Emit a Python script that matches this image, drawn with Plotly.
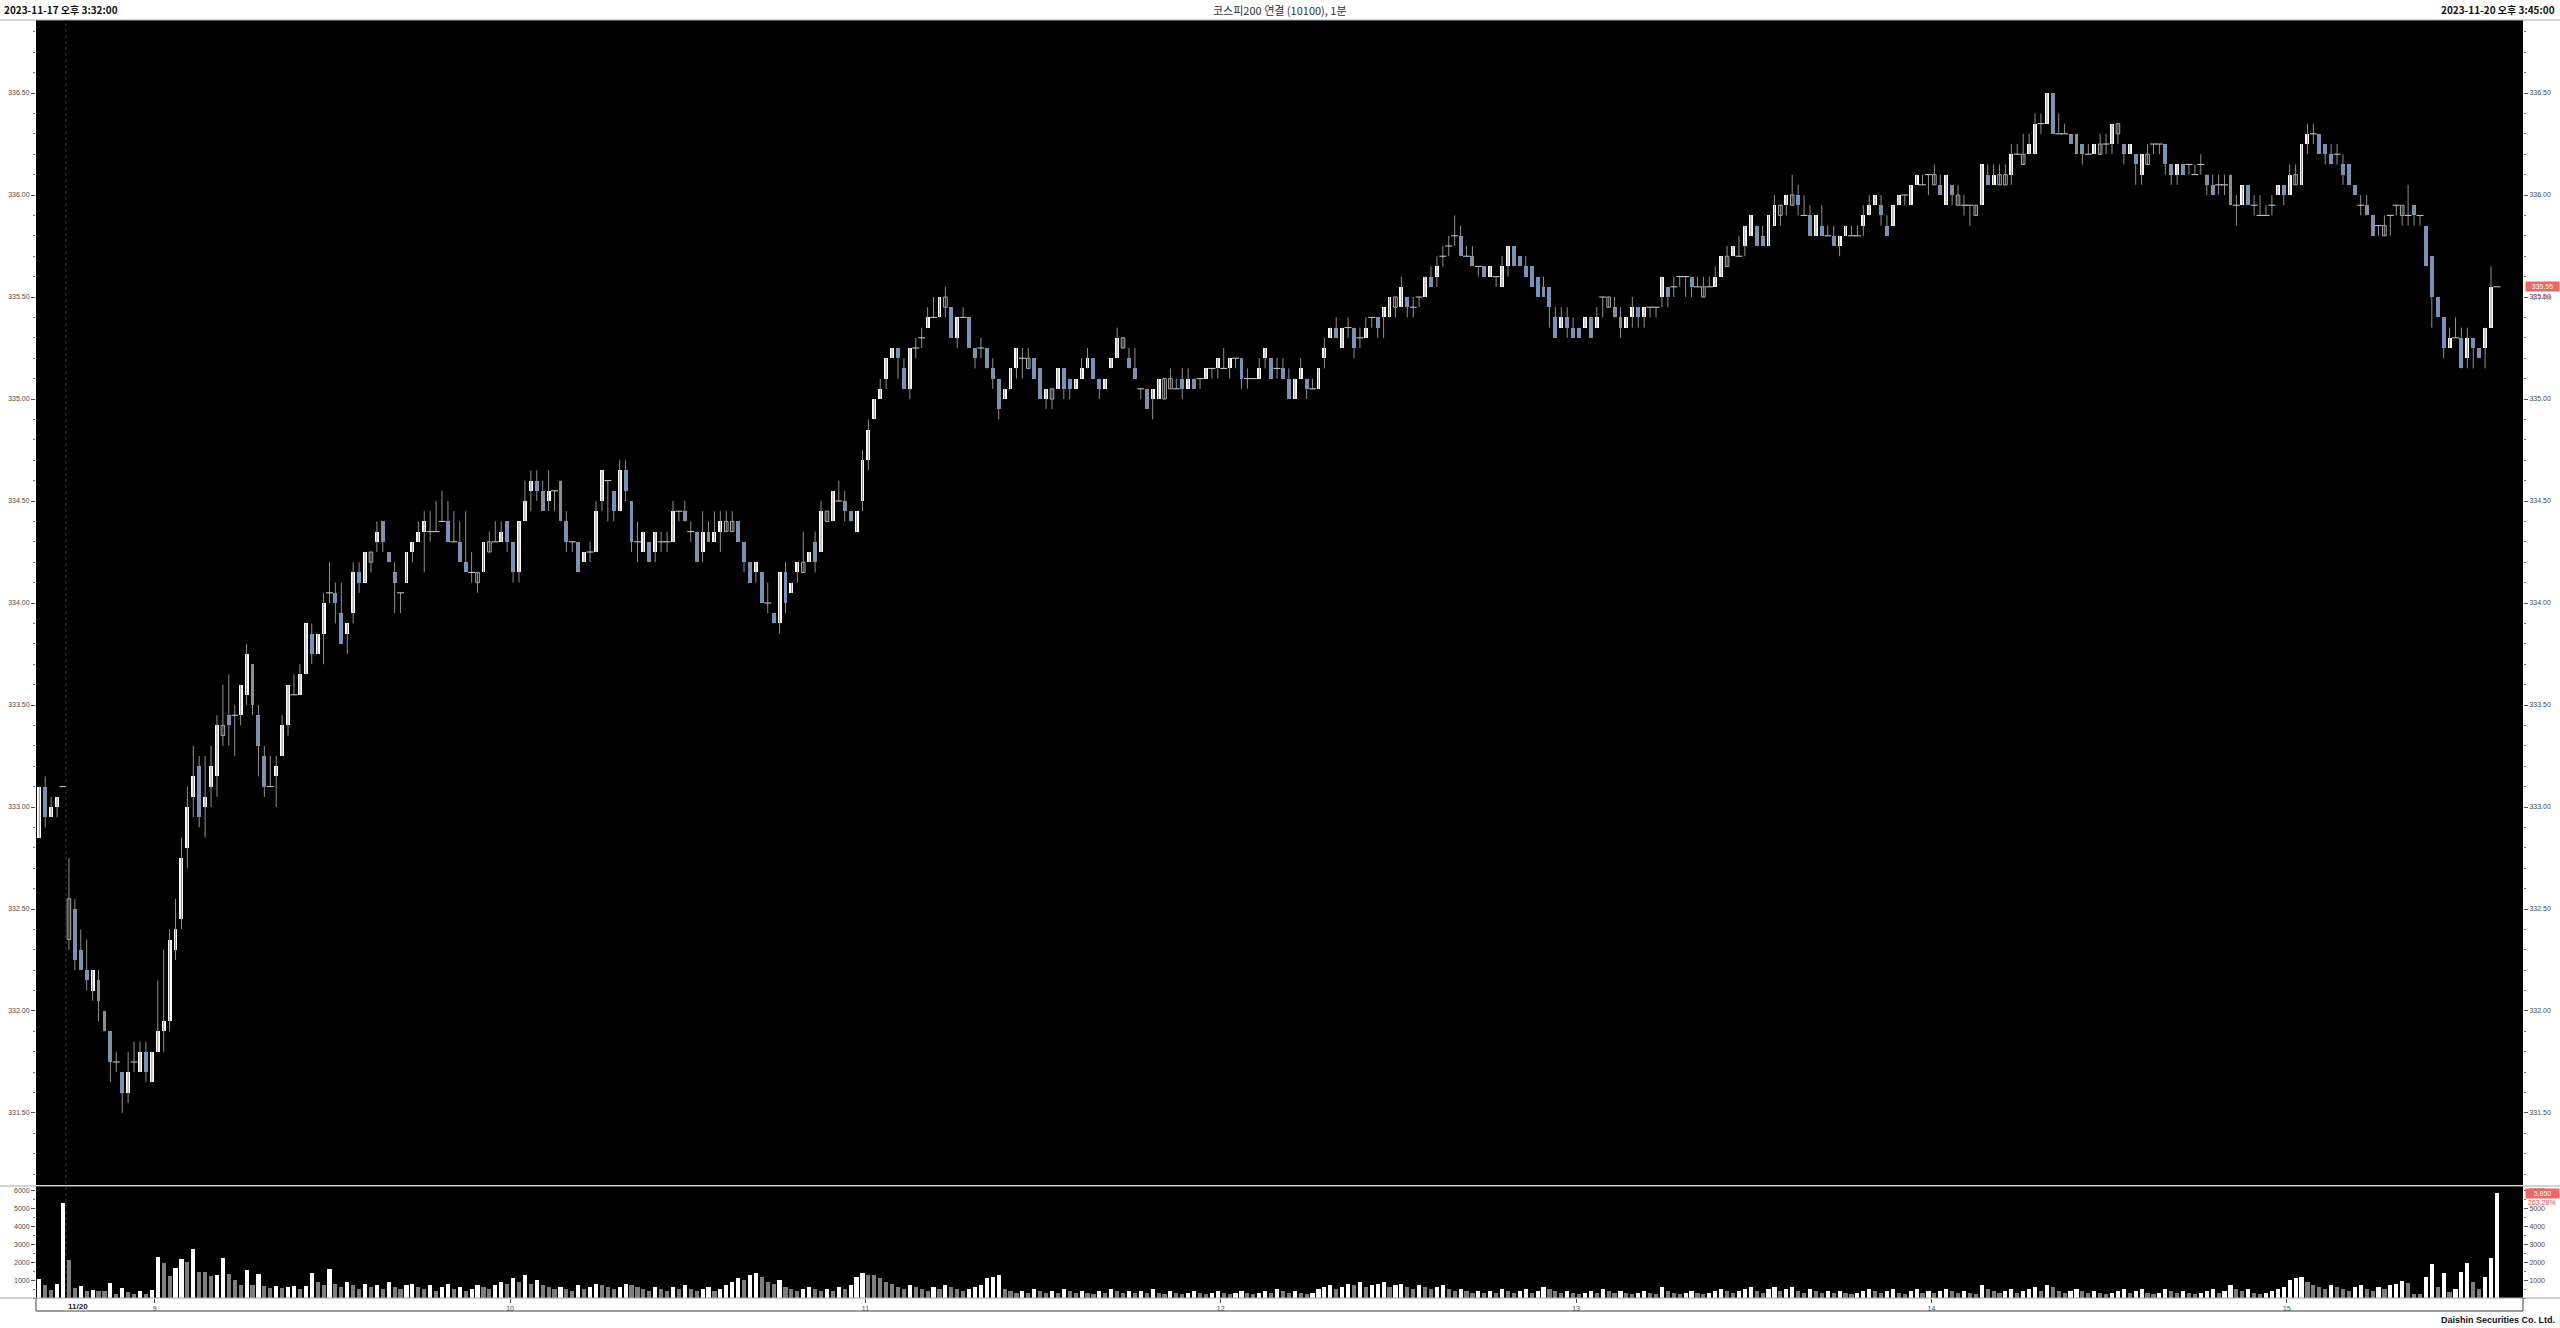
import plotly.graph_objects as go

W, H = 2560, 1328

# ---------------- data ----------------
open_ = [
332.85,333.10,332.95,333.00,333.10,332.35,332.50,332.30,332.20,332.10,
332.15,332.00,331.90,331.75,331.70,331.60,331.75,331.70,331.80,331.65,
331.80,331.90,331.95,332.30,332.45,332.80,333.05,333.20,333.00,333.10,
333.15,333.35,333.45,333.45,333.45,333.55,333.70,333.45,333.25,333.10,
333.15,333.25,333.40,333.55,333.55,333.65,333.85,333.75,333.85,334.05,
334.05,333.95,333.85,333.95,334.15,334.10,334.20,334.30,334.40,334.25,
334.15,334.05,334.10,334.25,334.30,334.35,334.35,334.35,334.40,334.40,
334.30,334.30,334.20,334.15,334.10,334.15,334.25,334.30,334.30,334.40,
334.30,334.15,334.40,334.55,334.60,334.55,334.50,334.55,334.60,334.40,
334.30,334.30,334.20,334.25,334.25,334.50,334.60,334.55,334.45,334.65,
334.50,334.30,334.25,334.30,334.25,334.30,334.30,334.30,334.45,334.45,
334.35,334.35,334.25,334.35,334.30,334.35,334.35,334.35,334.40,334.30,
334.20,334.15,334.15,334.00,333.95,333.90,334.15,334.05,334.15,334.15,
334.20,334.30,334.25,334.40,334.40,334.50,334.50,334.45,334.35,334.50,
334.70,334.90,335.00,335.10,335.20,335.25,335.15,335.05,335.25,335.30,
335.35,335.40,335.40,335.45,335.45,335.30,335.40,335.40,335.25,335.25,
335.25,335.15,335.10,335.00,335.05,335.15,335.20,335.15,335.20,335.15,
335.00,335.00,335.05,335.15,335.10,335.05,335.10,335.15,335.20,335.10,
335.05,335.15,335.20,335.25,335.20,335.15,335.05,335.05,335.00,335.00,
335.00,335.05,335.05,335.10,335.05,335.10,335.10,335.10,335.15,335.15,
335.15,335.15,335.20,335.20,335.10,335.10,335.10,335.20,335.20,335.15,
335.15,335.10,335.00,335.10,335.10,335.05,335.05,335.20,335.30,335.35,
335.25,335.35,335.35,335.30,335.30,335.40,335.40,335.40,335.40,335.45,
335.45,335.50,335.45,335.50,335.50,335.60,335.60,335.70,335.75,335.80,
335.80,335.70,335.70,335.65,335.65,335.60,335.60,335.55,335.65,335.75,
335.70,335.65,335.65,335.60,335.55,335.55,335.40,335.35,335.40,335.35,
335.35,335.35,335.40,335.35,335.50,335.45,335.45,335.40,335.35,335.40,
335.45,335.40,335.45,335.45,335.50,335.55,335.55,335.60,335.60,335.60,
335.55,335.50,335.55,335.55,335.60,335.65,335.70,335.70,335.75,335.80,
335.85,335.80,335.75,335.85,335.90,335.95,335.95,336.00,335.90,335.90,
335.80,335.85,335.80,335.80,335.75,335.80,335.80,335.80,335.85,335.90,
335.95,335.95,335.85,335.85,335.95,336.00,335.95,336.05,336.05,336.10,
336.05,336.05,335.95,336.05,335.95,335.95,335.95,335.90,335.95,336.10,
336.05,336.05,336.05,336.10,336.20,336.15,336.20,336.20,336.35,336.35,
336.50,336.30,336.30,336.30,336.30,336.25,336.20,336.20,336.20,336.25,
336.25,336.30,336.25,336.20,336.20,336.10,336.15,336.25,336.25,336.25,
336.15,336.10,336.15,336.15,336.10,336.15,336.10,336.05,336.05,336.05,
336.10,335.95,335.95,336.05,335.95,335.90,335.90,335.95,336.00,336.05,
336.00,336.05,336.05,336.25,336.30,336.30,336.25,336.20,336.20,336.15,
336.15,336.05,335.95,335.95,335.90,335.85,335.80,335.90,335.95,335.90,
335.90,335.95,335.90,335.85,335.70,335.50,335.40,335.25,335.30,335.30,
335.20,335.30,335.25,335.25,335.35,335.55]

high_ = [
333.10,333.15,333.05,333.05,333.10,332.75,332.55,332.40,332.35,332.20,
332.20,332.00,331.90,331.80,331.70,331.80,331.85,331.85,331.85,331.80,
332.15,332.30,332.40,332.55,332.85,333.10,333.30,333.25,333.25,333.30,
333.45,333.60,333.65,333.50,333.60,333.80,333.70,333.50,333.30,333.25,
333.25,333.45,333.60,333.65,333.70,333.90,333.90,333.85,334.05,334.20,
334.10,334.10,333.90,334.20,334.20,334.25,334.25,334.40,334.40,334.25,
334.20,334.05,334.25,334.30,334.40,334.45,334.45,334.50,334.55,334.50,
334.45,334.40,334.45,334.25,334.15,334.30,334.35,334.40,334.40,334.40,
334.30,334.40,334.60,334.65,334.65,334.60,334.65,334.55,334.60,334.45,
334.30,334.30,334.25,334.30,334.50,334.65,334.60,334.55,334.70,334.70,
334.50,334.40,334.35,334.30,334.35,334.35,334.35,334.50,334.45,334.50,
334.40,334.35,334.45,334.40,334.45,334.45,334.45,334.45,334.40,334.30,
334.20,334.20,334.15,334.10,333.95,334.15,334.20,334.10,334.20,334.35,
334.25,334.35,334.50,334.45,334.55,334.60,334.55,334.45,334.45,334.75,
334.90,335.00,335.10,335.20,335.25,335.25,335.20,335.25,335.30,335.35,
335.45,335.50,335.50,335.55,335.45,335.40,335.45,335.40,335.25,335.30,
335.25,335.20,335.10,335.05,335.15,335.25,335.25,335.25,335.20,335.15,
335.05,335.05,335.15,335.15,335.10,335.10,335.20,335.25,335.20,335.10,
335.10,335.20,335.35,335.30,335.25,335.25,335.05,335.05,335.05,335.10,
335.10,335.15,335.10,335.15,335.15,335.10,335.10,335.15,335.15,335.20,
335.25,335.20,335.20,335.20,335.15,335.10,335.20,335.25,335.20,335.20,
335.20,335.15,335.10,335.20,335.10,335.10,335.15,335.30,335.35,335.40,
335.35,335.40,335.35,335.35,335.40,335.40,335.40,335.45,335.50,335.50,
335.60,335.50,335.50,335.50,335.60,335.65,335.70,335.75,335.80,335.90,
335.85,335.75,335.75,335.65,335.65,335.65,335.60,335.70,335.75,335.75,
335.70,335.70,335.65,335.60,335.60,335.55,335.45,335.45,335.45,335.40,
335.35,335.40,335.40,335.45,335.50,335.50,335.50,335.45,335.40,335.50,
335.45,335.45,335.45,335.45,335.60,335.55,335.60,335.60,335.60,335.60,
335.60,335.60,335.60,335.65,335.70,335.75,335.75,335.80,335.85,335.90,
335.85,335.85,335.90,336.00,335.95,336.00,336.10,336.05,336.00,335.95,
335.90,335.95,335.85,335.85,335.80,335.85,335.85,335.85,335.95,336.00,
336.00,336.00,335.90,335.95,336.00,336.00,336.05,336.10,336.10,336.10,
336.15,336.10,336.10,336.05,336.05,336.00,335.95,335.95,336.15,336.15,
336.15,336.15,336.15,336.25,336.25,336.30,336.30,336.40,336.40,336.50,
336.50,336.40,336.35,336.30,336.30,336.25,336.25,336.25,336.30,336.30,
336.35,336.35,336.25,336.25,336.20,336.20,336.25,336.25,336.25,336.25,
336.15,336.15,336.15,336.15,336.15,336.20,336.10,336.10,336.10,336.10,
336.10,336.00,336.05,336.05,336.00,336.00,335.95,336.00,336.05,336.05,
336.15,336.15,336.25,336.35,336.35,336.30,336.25,336.25,336.25,336.20,
336.15,336.05,336.00,336.00,335.90,335.85,335.90,335.90,335.95,335.95,
336.05,335.95,335.90,335.85,335.70,335.50,335.40,335.35,335.40,335.35,
335.35,335.30,335.25,335.35,335.65,335.55]

low_ = [
332.85,332.90,332.95,332.95,333.10,332.30,332.20,332.20,332.10,332.05,
331.95,331.90,331.65,331.70,331.50,331.55,331.70,331.70,331.65,331.65,
331.80,331.80,331.90,332.25,332.40,332.70,332.95,332.90,332.85,333.00,
333.05,333.30,333.30,333.25,333.40,333.50,333.45,333.15,333.05,333.10,
333.00,333.25,333.35,333.55,333.55,333.65,333.70,333.75,333.70,334.00,
333.90,333.80,333.75,333.90,334.05,334.10,334.15,334.25,334.25,334.20,
333.95,333.95,334.10,334.20,334.30,334.15,334.30,334.35,334.40,334.30,
334.30,334.20,334.15,334.10,334.05,334.15,334.25,334.30,334.30,334.25,
334.10,334.10,334.40,334.45,334.50,334.45,334.45,334.45,334.40,334.25,
334.25,334.15,334.20,334.20,334.25,334.45,334.40,334.40,334.45,334.50,
334.25,334.20,334.25,334.20,334.20,334.25,334.25,334.30,334.40,334.40,
334.30,334.20,334.20,334.30,334.30,334.25,334.35,334.35,334.30,334.15,
334.10,334.10,334.00,333.95,333.90,333.85,333.95,334.05,334.10,334.15,
334.20,334.15,334.25,334.40,334.40,334.50,334.40,334.40,334.35,334.45,
334.65,334.90,335.00,335.05,335.20,335.10,335.05,335.00,335.20,335.25,
335.35,335.40,335.40,335.40,335.30,335.25,335.40,335.25,335.15,335.20,
335.15,335.05,334.90,335.00,335.05,335.10,335.10,335.15,335.10,335.00,
334.95,334.95,335.05,335.00,335.00,335.05,335.10,335.15,335.10,335.00,
335.05,335.15,335.20,335.25,335.15,335.10,335.00,334.95,334.90,335.00,
335.00,335.05,335.05,335.00,335.05,335.05,335.05,335.10,335.10,335.10,
335.15,335.10,335.15,335.05,335.05,335.10,335.10,335.15,335.10,335.10,
335.10,335.00,335.00,335.10,335.00,335.05,335.05,335.15,335.30,335.30,
335.25,335.30,335.20,335.25,335.30,335.35,335.30,335.30,335.40,335.40,
335.45,335.40,335.40,335.45,335.50,335.55,335.55,335.65,335.70,335.75,
335.70,335.70,335.65,335.60,335.60,335.60,335.55,335.55,335.60,335.65,
335.65,335.60,335.55,335.50,335.50,335.35,335.30,335.35,335.30,335.30,
335.30,335.35,335.30,335.35,335.40,335.45,335.40,335.30,335.35,335.35,
335.35,335.35,335.40,335.40,335.45,335.45,335.50,335.55,335.50,335.50,
335.55,335.50,335.55,335.55,335.60,335.65,335.70,335.70,335.70,335.80,
335.75,335.75,335.75,335.85,335.85,335.90,335.95,335.90,335.90,335.80,
335.80,335.80,335.80,335.75,335.70,335.80,335.80,335.80,335.80,335.90,
335.95,335.85,335.80,335.85,335.95,335.95,335.95,336.05,336.05,336.00,
336.05,336.00,335.95,335.95,335.95,335.90,335.85,335.90,335.95,336.05,
336.05,336.05,336.05,336.05,336.20,336.15,336.20,336.20,336.30,336.35,
336.30,336.30,336.30,336.25,336.20,336.15,336.20,336.20,336.20,336.20,
336.20,336.25,336.15,336.20,336.05,336.05,336.15,336.20,336.20,336.10,
336.05,336.05,336.10,336.10,336.10,336.10,336.00,336.00,336.00,336.00,
335.95,335.85,335.95,335.95,335.90,335.90,335.90,335.90,336.00,335.95,
336.00,336.05,336.05,336.20,336.25,336.20,336.15,336.15,336.15,336.05,
336.05,336.00,335.90,335.90,335.80,335.80,335.80,335.80,335.90,335.85,
335.85,335.85,335.85,335.65,335.35,335.40,335.20,335.25,335.30,335.15,
335.15,335.15,335.20,335.15,335.35,335.55]

close_ = [
333.10,332.95,333.00,333.05,333.10,332.55,332.25,332.20,332.15,332.20,
332.05,331.90,331.75,331.75,331.60,331.70,331.75,331.80,331.70,331.80,
331.90,331.95,332.35,332.40,332.75,333.00,333.15,332.95,333.05,333.20,
333.40,333.40,333.40,333.45,333.60,333.75,333.50,333.30,333.10,333.10,
333.20,333.40,333.60,333.55,333.65,333.90,333.75,333.85,334.00,334.05,
334.00,333.80,333.90,334.15,334.10,334.25,334.25,334.35,334.30,334.20,
334.10,334.05,334.25,334.30,334.35,334.40,334.35,334.35,334.40,334.30,
334.30,334.20,334.15,334.15,334.15,334.30,334.30,334.30,334.35,334.30,
334.15,334.40,334.50,334.60,334.55,334.45,334.55,334.55,334.40,334.30,
334.30,334.15,334.25,334.25,334.45,334.65,334.60,334.45,334.65,334.55,
334.30,334.30,334.35,334.20,334.35,334.30,334.30,334.45,334.45,334.40,
334.35,334.20,334.35,334.30,334.35,334.40,334.40,334.40,334.30,334.20,
334.10,334.20,334.00,334.00,333.90,334.15,334.00,334.10,334.20,334.20,
334.25,334.20,334.45,334.45,334.55,334.50,334.45,334.40,334.45,334.70,
334.85,335.00,335.05,335.20,335.25,335.20,335.05,335.25,335.25,335.30,
335.40,335.40,335.50,335.50,335.30,335.40,335.40,335.25,335.20,335.25,
335.15,335.10,334.95,335.05,335.15,335.25,335.20,335.20,335.10,335.00,
335.05,335.05,335.15,335.05,335.05,335.10,335.15,335.20,335.10,335.05,
335.10,335.20,335.30,335.30,335.15,335.10,335.05,334.95,335.05,335.10,
335.10,335.10,335.05,335.05,335.10,335.05,335.10,335.15,335.15,335.20,
335.15,335.20,335.20,335.10,335.10,335.10,335.15,335.25,335.10,335.15,
335.10,335.00,335.10,335.15,335.05,335.05,335.15,335.25,335.35,335.30,
335.35,335.35,335.25,335.30,335.35,335.40,335.35,335.45,335.50,335.50,
335.55,335.45,335.45,335.50,335.60,335.55,335.65,335.70,335.75,335.80,
335.70,335.70,335.65,335.65,335.60,335.65,335.60,335.65,335.75,335.65,
335.65,335.60,335.55,335.50,335.50,335.45,335.30,335.40,335.35,335.30,
335.30,335.40,335.30,335.40,335.50,335.50,335.40,335.35,335.40,335.45,
335.40,335.45,335.45,335.45,335.60,335.50,335.55,335.60,335.60,335.55,
335.55,335.55,335.55,335.60,335.70,335.70,335.75,335.70,335.85,335.90,
335.75,335.75,335.90,335.95,335.95,336.00,336.00,335.95,335.90,335.80,
335.90,335.80,335.80,335.75,335.80,335.85,335.80,335.80,335.90,335.95,
336.00,335.90,335.80,335.95,336.00,336.00,336.05,336.10,336.05,336.10,
336.10,336.00,336.10,336.00,336.00,335.95,335.95,335.95,336.15,336.05,
336.10,336.10,336.10,336.20,336.20,336.20,336.25,336.35,336.35,336.50,
336.30,336.30,336.30,336.25,336.20,336.20,336.20,336.25,336.25,336.25,
336.35,336.35,336.20,336.25,336.15,336.20,336.20,336.25,336.25,336.15,
336.10,336.15,336.10,336.15,336.10,336.15,336.05,336.00,336.05,336.05,
335.95,335.95,336.05,335.95,335.95,335.90,335.90,335.95,336.05,336.00,
336.10,336.10,336.25,336.30,336.30,336.20,336.20,336.15,336.20,336.10,
336.05,336.00,335.95,335.90,335.80,335.85,335.85,335.90,335.95,335.95,
335.90,335.90,335.90,335.65,335.50,335.40,335.25,335.30,335.30,335.15,
335.30,335.25,335.20,335.35,335.55,335.55]

volume = [
1050,720,450,800,5300,2150,560,650,380,430,
400,400,850,200,570,340,200,380,220,430,
2280,1950,1250,1650,2180,2020,2720,1450,1450,1240,
1300,2220,1350,1020,730,1550,700,1360,650,550,
680,580,610,680,520,650,1400,900,700,1600,
800,600,900,700,500,800,600,700,500,900,
600,500,700,800,600,500,700,400,600,800,
500,600,400,500,700,600,500,700,900,800,
1100,900,1300,800,1000,700,600,500,600,500,
400,700,500,600,800,700,600,500,600,800,
700,600,500,400,600,500,400,600,500,700,
500,400,500,600,400,500,700,900,1100,1000,
1300,1400,1200,900,800,1000,600,500,400,500,
600,500,400,500,400,600,500,700,1200,1400,
1300,1300,1100,900,800,600,500,700,600,500,
400,600,500,700,600,500,400,500,600,700,
1100,1200,1300,500,400,300,400,300,500,400,
300,400,300,500,400,300,400,300,200,400,
300,500,400,300,400,300,400,300,500,300,
200,400,300,200,300,400,300,200,300,400,
300,200,300,400,300,200,300,400,300,500,
400,300,400,300,200,300,500,600,700,500,
600,800,700,900,600,700,800,900,600,700,
800,600,500,700,600,500,600,700,500,400,
500,400,300,400,300,400,300,500,400,300,
400,500,300,400,600,500,400,300,400,300,
200,300,400,300,500,400,300,400,300,200,
300,400,300,200,600,400,300,200,300,400,
300,200,300,400,500,400,300,400,500,600,
400,300,500,600,400,500,600,400,300,500,
400,300,400,300,400,300,200,300,400,500,
400,300,400,500,300,200,400,500,300,400,
300,400,500,400,300,400,300,200,700,500,
400,300,400,500,300,400,500,600,400,700,
600,400,300,400,500,400,300,400,300,200,
300,400,500,300,400,500,300,200,300,500,
400,300,400,300,200,300,400,500,300,400,
700,500,400,500,300,200,300,400,500,600,
1000,1100,1200,900,700,600,500,700,600,500,
400,600,700,500,400,600,500,700,800,950,
850,250,200,1200,1900,600,1400,330,480,1450,
1950,900,480,1150,2250,5850]

hour_labels = ["9", "10", "11", "12", "13", "14", "15"]
price_ticks = [331.5, 332.0, 332.5, 333.0, 333.5, 334.0, 334.5, 335.0, 335.5, 336.0, 336.5]
volume_ticks = [1000, 2000, 3000, 4000, 5000, 6000]
prev_day_bars = 5              # bars of 2023-11-17 shown before the 11/20 session
session_start_min = 8 * 60 + 45
header_left = "2023-11-17 오후 3:32:00"
header_right = "2023-11-20 오후 3:45:00"
title_text = "코스피200 연결 (10100), 1분"
session_label = "11/20"
price_change = "0.74%"
volume_change = "263.28%"
footer = "Daishin Securities Co. Ltd."

n = len(close_)
assert len(open_) == n and len(high_) == n and len(low_) == n and len(volume) == n, (len(open_), len(high_), len(low_), n, len(volume))

# ---------------- derived ----------------
idx = list(range(n))
hour_pos = []
for i in range(prev_day_bars, n - 1):
    m = session_start_min + (i - prev_day_bars)
    if m % 60 == 0:
        hour_pos.append(i - 0.5)

up_x, up_b, up_h = [], [], []
dn_x, dn_b, dn_h = [], [], []
ho_x, ho_b, ho_h = [], [], []
dj_x, dj_y = [], []
for i in idx:
    o, c = open_[i], close_[i]
    if c == o:
        dj_x.append(i); dj_y.append(c)
    elif c > o:
        if i > 0 and c <= close_[i - 1]:
            ho_x.append(i); ho_b.append(o); ho_h.append(round(c - o, 4))
        else:
            up_x.append(i); up_b.append(o); up_h.append(round(c - o, 4))
    else:
        dn_x.append(i); dn_b.append(c); dn_h.append(round(o - c, 4))

wx, wy = [], []
for i in idx:
    wx += [i, i, None]
    wy += [low_[i], high_[i], None]

vu_x, vu_y, vd_x, vd_y = [], [], [], []
for i in idx:
    if i == 0 or volume[i] > volume[i - 1]:
        vu_x.append(i); vu_y.append(volume[i])
    else:
        vd_x.append(i); vd_y.append(volume[i])

# ---------------- geometry helpers ----------------
def px(x):
    return x / W

def py(y):
    return 1 - y / H

PL, PR = 36, 2523
P_TOP, P_BOT = 20, 1185
V_TOP, V_BOT = 1186, 1298
xr = [-0.56, 419.4]
yr = [331.147, 336.858]
vr = [0, 6257]

WHITE = "#ffffff"
BLUE = "#7393bd"
WICK = "#8f8f8f"
VGRAY = "#7f7f7f"

fig = go.Figure()
fig.add_trace(go.Scatter(x=wx, y=wy, mode="lines", line=dict(color=WICK, width=1),
                         xaxis="x", yaxis="y", hoverinfo="skip", showlegend=False))
fig.add_trace(go.Bar(x=up_x, y=up_h, base=up_b, width=0.66, marker=dict(color=WHITE, line=dict(width=0)),
                     xaxis="x", yaxis="y", showlegend=False))
fig.add_trace(go.Bar(x=dn_x, y=dn_h, base=dn_b, width=0.66, marker=dict(color=BLUE, line=dict(width=0)),
                     xaxis="x", yaxis="y", showlegend=False))
fig.add_trace(go.Bar(x=ho_x, y=ho_h, base=ho_b, width=0.6, marker=dict(color="#000000", line=dict(width=1, color="#b0b0b0")),
                     xaxis="x", yaxis="y", showlegend=False))
fig.add_trace(go.Scatter(x=dj_x, y=dj_y, mode="markers",
                         marker=dict(symbol="line-ew", size=5, line=dict(width=1, color="#cfcfcf")),
                         xaxis="x", yaxis="y3", hoverinfo="skip", showlegend=False))
fig.add_trace(go.Bar(x=vu_x, y=vu_y, width=0.7, marker=dict(color=WHITE, line=dict(width=0)),
                     xaxis="x2", yaxis="y2", showlegend=False))
fig.add_trace(go.Bar(x=vd_x, y=vd_y, width=0.7, marker=dict(color=VGRAY, line=dict(width=0)),
                     xaxis="x2", yaxis="y4", showlegend=False))

tick_font = dict(family="Liberation Sans, Arial, sans-serif", size=7, color="#4a4a4a")
price_axis = dict(range=yr, tickvals=price_ticks, tickformat=".2f", ticks="outside", ticklen=4,
                  tickwidth=1, tickcolor="#505050", tickfont=tick_font, showgrid=False, zeroline=False,
                  showline=False, minor=dict(dtick=0.1, tick0=331.5, ticks="outside", ticklen=2,
                                             tickcolor="#707070", showgrid=False))
vol_axis = dict(range=vr, tickvals=volume_ticks, tickformat="d", ticks="outside", ticklen=4,
                tickwidth=1, tickcolor="#505050", tickfont=tick_font, showgrid=False, zeroline=False,
                showline=False, minor=dict(dtick=500, ticks="outside", ticklen=2, tickcolor="#707070",
                                           showgrid=False))

fig.update_layout(
    width=W, height=H, margin=dict(l=0, r=0, t=0, b=0, pad=0),
    paper_bgcolor="white", plot_bgcolor="black",
    barmode="overlay", bargap=0, showlegend=False, hovermode=False,
    xaxis=dict(domain=[px(PL), px(PR)], range=xr, showticklabels=False, ticks="", showgrid=False,
               zeroline=False, showline=False, anchor="y"),
    yaxis=dict(domain=[py(P_BOT), py(P_TOP)], anchor="x", side="left", **price_axis),
    yaxis3=dict(overlaying="y", anchor="x", side="right", **price_axis),
    xaxis2=dict(domain=[px(PL), px(PR)], range=xr, anchor="y2", tickvals=hour_pos, ticktext=hour_labels,
                ticks="outside", ticklen=4, tickcolor="#505050", tickfont=tick_font, showgrid=False,
                zeroline=False, showline=False),
    yaxis2=dict(domain=[py(V_BOT), py(V_TOP)], anchor="x2", side="left", **vol_axis),
    yaxis4=dict(overlaying="y2", anchor="x2", side="right", **vol_axis),
)

shapes = []
for yy in (P_TOP, V_TOP, V_BOT):
    shapes.append(dict(type="line", xref="paper", yref="paper", x0=0, x1=1, y0=py(yy), y1=py(yy),
                       line=dict(color="#a8a8a8", width=1)))
shapes.append(dict(type="line", xref="paper", yref="paper", x0=px(PL), x1=px(PR), y0=py(1311), y1=py(1311),
                   line=dict(color="#404040", width=1)))
for xx in (PL, PR):
    shapes.append(dict(type="line", xref="paper", yref="paper", x0=px(xx), x1=px(xx), y0=py(V_BOT), y1=py(1311),
                       line=dict(color="#404040", width=1)))
shapes.append(dict(type="line", xref="x", yref="paper", x0=prev_day_bars - 0.5, x1=prev_day_bars - 0.5,
                   y0=py(V_BOT), y1=py(P_TOP), line=dict(color="#3c3c3c", width=1, dash="dot")))
fig.update_layout(shapes=shapes)

hdr_font = dict(family="Noto Sans CJK KR, sans-serif", size=10, color="#111111")
ann = [
    dict(text="<b>" + header_left + "</b>", xref="paper", yref="paper", x=px(2), y=py(10),
         xanchor="left", yanchor="middle", showarrow=False, font=hdr_font),
    dict(text="<b>" + header_right + "</b>", xref="paper", yref="paper", x=px(2557), y=py(10),
         xanchor="right", yanchor="middle", showarrow=False, font=hdr_font),
    dict(text=title_text, xref="paper", yref="paper", x=px(1280), y=py(10),
         xanchor="center", yanchor="middle", showarrow=False,
         font=dict(family="Noto Sans CJK KR, sans-serif", size=11, color="#333333")),
    dict(text="<b>" + footer + "</b>", xref="paper", yref="paper", x=px(2557), y=py(1320),
         xanchor="right", yanchor="middle", showarrow=False,
         font=dict(family="Liberation Sans, Arial, sans-serif", size=9, color="#111111")),
    dict(text="<b>" + session_label + "</b>", xref="x2", yref="paper", x=prev_day_bars - 0.5, y=py(1306),
         xanchor="left", yanchor="middle", showarrow=False,
         font=dict(family="Liberation Sans, Arial, sans-serif", size=8, color="#222222")),
    dict(text=f"{close_[-1]:.2f}", xref="paper", yref="y", x=px(PR + 2), y=close_[-1],
         xanchor="left", yanchor="middle", showarrow=False, bgcolor="#ef6464", width=33, height=9,
         borderpad=0, align="center", font=dict(family="Liberation Sans, Arial, sans-serif", size=7, color="white")),
    dict(text=price_change, xref="paper", yref="y", x=px(PR + 19), y=close_[-1], yshift=-11,
         xanchor="center", yanchor="middle", showarrow=False,
         font=dict(family="Liberation Sans, Arial, sans-serif", size=7, color="#e04a4a")),
    dict(text=f"{volume[-1]:,}", xref="paper", yref="y2", x=px(PR + 2), y=volume[-1],
         xanchor="left", yanchor="middle", showarrow=False, bgcolor="#ef6464", width=33, height=9,
         borderpad=0, align="center", font=dict(family="Liberation Sans, Arial, sans-serif", size=7, color="white")),
    dict(text=volume_change, xref="paper", yref="y2", x=px(PR + 19), y=volume[-1], yshift=-9,
         xanchor="center", yanchor="middle", showarrow=False,
         font=dict(family="Liberation Sans, Arial, sans-serif", size=7, color="#e04a4a")),
]
fig.update_layout(annotations=ann)

fig.write_html("out.html", config={"displayModeBar": False, "staticPlot": True},
               post_script="document.body.style.margin='0';document.body.style.overflow='hidden';")
